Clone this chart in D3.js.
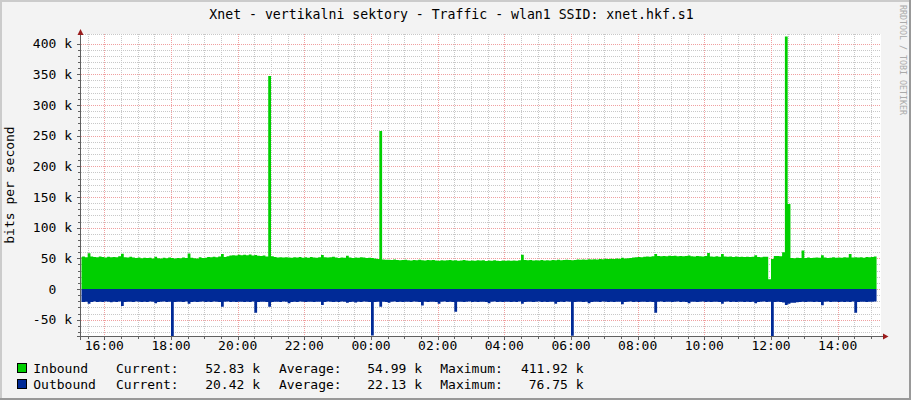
<!DOCTYPE html>
<html><head><meta charset="utf-8">
<script src="https://cdn.jsdelivr.net/npm/d3@7"></script>
<style>
html,body{margin:0;padding:0;background:#F3F3F3;}
svg{display:block;}
text{font-family:"DejaVu Sans Mono",monospace;}
</style>
</head><body><svg id="c" width="911" height="400"></svg>
<script>
// ---- data (k bits per second), one value per 5-minute interval starting 15:15 ----
const inbound = [
52.4,53.1,51.8,58.2,53.0,52.2,51.6,52.9,52.1,51.5,52.6,51.9,
52.3,51.7,53.4,57.6,52.0,51.2,52.8,51.4,50.6,51.3,50.2,50.9,
50.4,51.1,49.8,52.6,50.3,49.7,50.8,50.1,51.2,50.5,49.9,50.7,
50.2,51.4,50.6,57.9,51.0,50.3,49.8,51.6,50.4,51.1,52.3,51.7,
52.5,51.8,53.0,57.2,52.4,53.6,54.8,55.2,54.6,55.7,54.9,55.8,
55.1,56.2,54.7,55.4,54.3,53.8,54.6,53.2,347.3,53.5,52.1,51.4,
51.8,51.2,52.0,51.5,50.9,51.7,51.3,52.2,51.0,51.6,51.1,52.4,
51.5,50.8,51.9,55.3,52.0,51.3,51.7,52.5,51.2,50.6,51.4,51.0,
54.1,51.3,50.7,51.5,50.9,51.8,51.2,50.4,51.0,50.6,49.8,48.9,
257.6,48.2,47.6,47.9,47.3,48.1,47.5,46.8,47.4,47.9,47.1,46.6,
47.3,46.9,47.6,47.0,46.5,47.2,46.8,47.5,46.6,46.2,47.0,46.4,
46.9,47.3,46.3,46.8,46.1,46.7,47.2,46.4,45.9,46.6,46.0,46.8,
46.3,47.0,45.8,46.5,46.1,46.9,46.2,45.7,46.4,46.0,46.6,45.9,
46.5,46.2,47.1,55.8,47.4,46.8,47.3,46.6,47.0,46.4,47.2,46.7,
47.1,46.6,47.4,47.0,47.6,46.9,47.3,47.8,47.2,46.8,47.5,48.1,
47.6,48.2,47.8,48.5,48.0,48.7,48.3,49.0,48.6,49.2,48.8,49.4,
49.1,49.6,49.3,50.8,49.7,50.2,50.6,51.3,51.9,52.4,52.0,52.8,
53.2,52.7,53.5,57.1,53.8,53.3,54.0,53.6,54.2,53.7,54.1,53.5,
54.0,53.4,53.9,54.5,53.6,53.1,53.8,53.3,53.0,53.7,58.9,53.2,
52.8,53.4,52.6,57.0,53.1,52.5,53.0,52.4,52.9,52.3,52.8,52.2,
52.7,52.1,52.6,55.2,52.4,52.0,52.5,52.7,15.8,49.0,53.8,53.9,
53.6,59.8,411.92,138.6,50.5,50.3,50.8,50.4,63.0,50.6,51.2,50.7,
51.0,51.4,50.8,54.9,51.3,50.7,51.1,51.6,50.9,51.4,51.0,51.7,
51.2,57.3,51.5,52.0,51.4,51.8,51.1,52.3,51.6,52.1,52.83
];
const outbound = [
20.6,21.2,20.8,24.0,21.0,20.5,21.3,20.7,21.1,20.4,20.9,21.4,
20.7,21.0,20.5,27.7,21.2,20.6,20.9,21.3,20.4,20.8,21.1,20.6,
21.0,20.5,20.9,23.0,21.2,20.7,20.4,21.0,20.8,76.75,21.3,20.6,
20.9,21.2,20.5,24.0,21.0,20.6,21.3,20.8,20.4,21.1,20.7,21.0,
20.5,20.9,21.2,29.0,20.8,20.4,21.0,20.7,21.3,20.6,20.9,21.1,
20.6,21.0,20.5,38.5,21.2,20.7,20.9,21.3,29.0,21.0,20.6,20.8,
21.1,20.5,20.9,23.0,21.2,20.7,21.0,20.4,20.8,21.3,20.6,20.9,
21.2,20.6,20.9,26.0,21.1,20.5,20.8,21.2,20.7,21.0,20.4,20.9,
22.5,21.0,20.6,22.0,20.9,21.2,20.5,20.8,21.1,75.9,21.0,20.7,
29.0,20.9,21.3,22.5,20.8,20.5,21.1,20.7,21.0,20.6,20.9,21.2,
20.5,20.8,21.1,27.0,20.7,21.0,20.6,20.9,21.2,24.0,20.8,20.5,
21.0,20.7,21.2,37.0,20.9,20.6,21.1,20.8,20.5,21.0,20.7,21.3,
20.6,20.9,21.2,23.0,20.8,20.5,21.0,20.7,21.1,20.6,20.9,21.2,
20.7,21.0,20.5,24.0,21.1,20.8,20.6,21.2,20.9,20.5,21.0,20.7,
21.1,20.6,20.9,24.0,21.2,20.7,21.0,20.5,20.8,76.2,21.1,20.6,
20.9,21.2,20.7,23.0,21.0,20.6,20.8,21.3,20.5,20.9,21.1,20.7,
21.0,20.6,20.9,25.0,21.2,20.7,20.5,21.0,20.8,21.1,20.6,20.9,
21.2,20.7,21.0,38.5,20.8,20.5,21.1,20.9,20.6,21.2,20.8,20.5,
21.0,20.7,21.1,23.0,20.9,20.6,21.2,20.8,20.5,21.0,20.7,21.1,
20.6,20.9,21.2,24.0,20.8,20.5,21.0,20.7,21.1,20.6,20.9,21.2,
20.7,21.0,20.6,23.0,21.1,20.8,20.5,21.0,20.9,76.5,21.2,20.8,
21.0,22.0,26.0,24.0,22.5,22.2,21.5,21.0,20.8,21.1,20.6,20.9,
21.2,20.7,21.0,26.5,20.8,20.5,21.1,20.9,20.6,21.0,20.8,21.2,
20.7,21.0,20.5,38.5,21.1,20.8,20.6,21.0,20.9,20.7,20.42
];
const firstIntervalStart = "15:15";
const stepMinutes = 5;
const viewStart = "15:18";
const xTickLabels = ["16:00","18:00","20:00","22:00","00:00","02:00","04:00","06:00","08:00","10:00","12:00","14:00"];
const yTickValues = [-50,0,50,100,150,200,250,300,350,400];
const legendNames = ["Inbound","Outbound"];
const legendColors = ["#00CF00","#002A97"];
const legendCurrent = ["52.83 k","20.42 k"];
const legendAverage = ["54.99 k","22.13 k"];
const legendMaximum = ["411.92 k","76.75 k"];
const titleText = "Xnet - vertikalni sektory - Traffic - wlan1 SSID: xnet.hkf.s1";
const yLabelText = "bits per second";
const watermarkText = "RRDTOOL / TOBI OETIKER";

// ---- layout ----
const W = 911, H = 400;
const L = 81, R = 881, T = 34, B = 336;
const svg = d3.select("#c");
const HOUR = 3600e3, MIN = 60e3;
const day0 = Date.UTC(2020,0,1);
const hm = s => { const [h,m] = s.split(":").map(Number); return day0 + h*HOUR + m*MIN; };
const t0 = hm(viewStart), t1 = t0 + 24*HOUR;
const x = d3.scaleUtc().domain([t0, t1]).range([L, R]);
const y = d3.scaleLinear().domain([-76.6, 415.8]).range([B, T]);

// background + shades
svg.append("rect").attr("width",W).attr("height",H).attr("fill","#F3F3F3");
svg.append("rect").attr("x",0).attr("y",0).attr("width",W).attr("height",2).attr("fill","#CBCBCB");
svg.append("rect").attr("x",0).attr("y",0).attr("width",2).attr("height",H).attr("fill","#CBCBCB");
svg.append("rect").attr("x",0).attr("y",H-2).attr("width",W).attr("height",2).attr("fill","#999999");
svg.append("rect").attr("x",W-2).attr("y",0).attr("width",2).attr("height",H).attr("fill","#999999");
// canvas
svg.append("rect").attr("x",L).attr("y",T).attr("width",R-L).attr("height",B-T).attr("fill","#FFFFFF");

const px = v => Math.round(v) + 0.5;
const grid = svg.append("g");
const minorCol = "#C8C8C8", majorCol = "#F0A0A0";
// horizontal minor grid
d3.range(-70, 401, 10).forEach(v => {
  if (v % 50 === 0) return;
  grid.append("line").attr("x1",L).attr("x2",R).attr("y1",px(y(v))).attr("y2",px(y(v)))
    .attr("stroke",minorCol).attr("stroke-dasharray","1,1");
});
grid.append("line").attr("x1",L).attr("x2",R).attr("y1",T+0.5).attr("y2",T+0.5)
  .attr("stroke",minorCol).attr("stroke-dasharray","1,1");
// vertical minor grid every 30 min
const tickTimes = xTickLabels.map(s => { let t = hm(s); if (t < t0) t += 24*HOUR; return t; });
d3.utcMinute.every(30).range(new Date(t0), new Date(t1)).forEach(d => {
  grid.append("line").attr("x1",px(x(d))).attr("x2",px(x(d))).attr("y1",T).attr("y2",B)
    .attr("stroke",minorCol).attr("stroke-dasharray","1,1");
});
// major grids
yTickValues.forEach(v => {
  grid.append("line").attr("x1",L).attr("x2",R).attr("y1",px(y(v))).attr("y2",px(y(v)))
    .attr("stroke",majorCol).attr("stroke-dasharray","1,1");
});
tickTimes.forEach(t => {
  grid.append("line").attr("x1",px(x(t))).attr("x2",px(x(t))).attr("y1",T).attr("y2",B)
    .attr("stroke",majorCol).attr("stroke-dasharray","1,1");
});

// data areas
const start = hm(firstIntervalStart);
const mk = arr => { const pts = arr.map((v,i) => ({t: start + i*stepMinutes*MIN, v}));
  pts.push({t: start + arr.length*stepMinutes*MIN, v: arr[arr.length-1]}); return pts; };
svg.append("clipPath").attr("id","clip").append("rect").attr("x",L+0.5).attr("y",T).attr("width",R-L).attr("height",B-T);
const plot = svg.append("g").attr("clip-path","url(#clip)");
const areaIn = d3.area().curve(d3.curveStepAfter).x(d => x(d.t)).y0(y(0)).y1(d => y(d.v));
const areaOut = d3.area().curve(d3.curveStepAfter).x(d => x(d.t)).y0(y(0)).y1(d => y(-d.v));
plot.append("path").datum(mk(outbound)).attr("d",areaOut).attr("fill","#002A97");
plot.append("path").datum(mk(inbound)).attr("d",areaIn).attr("fill","#00CF00");

// axes
const axisCol = "#606060", arrowCol = "#9B1C1C";
svg.append("line").attr("x1",77).attr("x2",885).attr("y1",B+0.5).attr("y2",B+0.5).attr("stroke",axisCol);
svg.append("line").attr("x1",L-0.5).attr("x2",L-0.5).attr("y1",340).attr("y2",33).attr("stroke",axisCol);
svg.append("path").attr("d","M883,333.5L888.5,336.5L883,339.5Z").attr("fill",arrowCol);
svg.append("path").attr("d","M77.5,35L80.5,29L83.5,35Z").attr("fill",arrowCol);
// ticks
d3.range(-70, 401, 10).forEach(v => {
  const len = v % 50 === 0 ? 3 : 2;
  svg.append("line").attr("x1",L-1-len).attr("x2",L-1).attr("y1",px(y(v))).attr("y2",px(y(v))).attr("stroke",axisCol);
});
d3.utcMinute.every(30).range(new Date(t0), new Date(t1)).forEach(d => {
  const major = tickTimes.includes(+d);
  svg.append("line").attr("x1",px(x(d))).attr("x2",px(x(d))).attr("y1",B+1).attr("y2",B+1+(major?3:2)).attr("stroke",axisCol);
});

// tick labels
const fs = 13;
yTickValues.forEach(v => {
  svg.append("text").attr("x",56.3).attr("y",y(v)+4.7).attr("text-anchor","end")
    .attr("font-size",fs).attr("fill","#000").text(String(v));
  if (v !== 0) svg.append("text").attr("x",72).attr("y",y(v)+4.7).attr("text-anchor","end")
    .attr("font-size",fs).attr("fill","#000").text("k");
});
tickTimes.forEach((t,i) => {
  svg.append("text").attr("x",x(t)).attr("y",350).attr("text-anchor","middle")
    .attr("font-size",fs).attr("fill","#000").text(xTickLabels[i]);
});

// title, y label, watermark
svg.append("text").attr("x",451.5).attr("y",19).attr("text-anchor","middle")
  .attr("font-size",13.2).attr("fill","#000").text(titleText);
svg.append("text").attr("transform","translate(14,185) rotate(-90)").attr("text-anchor","middle")
  .attr("font-size",fs).attr("fill","#000").text(yLabelText);
svg.append("text").attr("transform","translate(899.5,5) rotate(90)").attr("text-anchor","start")
  .attr("font-size",8.3).attr("fill","#AAAAAA").text(watermarkText);

// legend
const rowY = [373, 389];
legendNames.forEach((n,i) => {
  const yy = rowY[i];
  svg.append("rect").attr("x",17.5).attr("y",yy-9.5).attr("width",9).attr("height",9)
    .attr("fill",legendColors[i]).attr("stroke","#000");
  const t = (xx, s, anchor) => svg.append("text").attr("x",xx).attr("y",yy).attr("text-anchor",anchor||"start")
    .attr("font-size",fs).attr("fill","#000").text(s);
  t(33.3, n);
  t(116, "Current:");
  t(260, legendCurrent[i], "end");
  t(279, "Average:");
  t(422, legendAverage[i], "end");
  t(440.3, "Maximum:");
  t(583.5, legendMaximum[i], "end");
});
</script>
</body></html>
